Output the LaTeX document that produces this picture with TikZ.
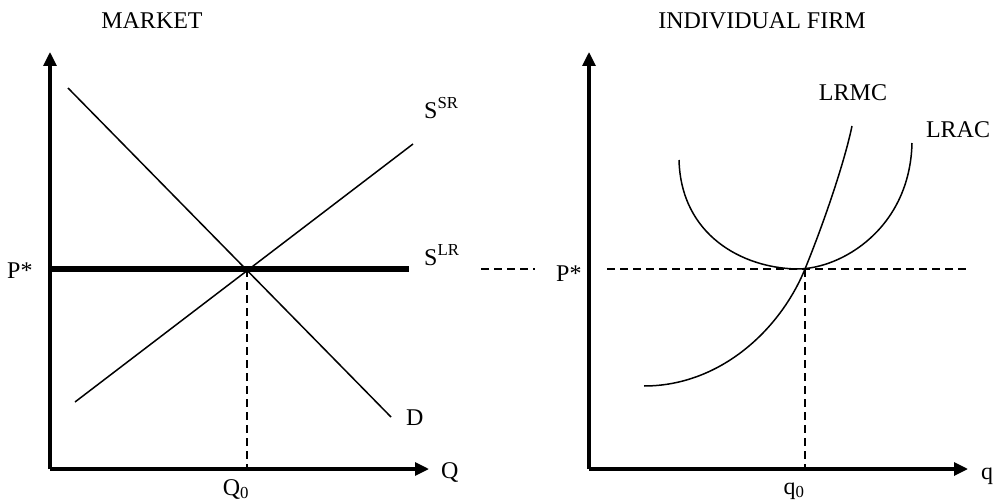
\documentclass[tikz,border=0pt]{standalone}
\usepackage{fontspec}
\setmainfont{Liberation Serif}
\usetikzlibrary{arrows.meta}
\begin{document}
\begin{tikzpicture}[x=1pt,y=-1pt,
  axis/.style={line width=3.2pt,-{Triangle[length=14pt,width=13pt]}},
  curve/.style={line width=1.5pt},
  thick line/.style={line width=5.2pt},
  guide/.style={line width=2pt,dash pattern=on 8pt off 5pt},
  lbl/.style={inner sep=0pt,font=\fontsize{24}{28}\selectfont},
  every node/.style={lbl}]
\useasboundingbox (0,0) rectangle (994,503);
% ---------- MARKET ----------
\coordinate (O1) at (50,469);
\coordinate (Y1) at (50,52);
\coordinate (X1) at (429,469);
\draw[axis] (O1) -- (Y1);
\draw[axis] (O1) -- (X1);
\coordinate (Dtop) at (68,88);
\coordinate (Dbot) at (391,417);
\coordinate (Sbot) at (75,402);
\coordinate (Stop) at (413,144);
\coordinate (Eq) at (247,269);
\coordinate (LRl) at (50,269);
\coordinate (LRr) at (409,269);
\coordinate (Eqb) at (247,469);
\draw[curve] (Dtop) -- (Dbot);
\draw[curve] (Sbot) -- (Stop);
\draw[thick line] (LRl) -- (LRr);
\draw[guide] (Eq) -- (Eqb);
\node[anchor=base] (mk) at (152,29) {MARKET};
\node[anchor=base west] (ssr) at (424,118) {S\textsuperscript{SR}};
\node[anchor=base west] (slr) at (424,265) {S\textsuperscript{LR}};
\node[anchor=base west] (p1) at (7,278) {P*};
\node[anchor=base west] (dl) at (406,425) {D};
\node[anchor=base west] (ql) at (441,478) {Q};
\node[anchor=base] (q0l) at (236,495) {Q\textsubscript{0}};
% ---------- INDIVIDUAL FIRM ----------
\coordinate (O2) at (589,469);
\coordinate (Y2) at (589,52);
\coordinate (X2) at (968,469);
\draw[axis] (O2) -- (Y2);
\draw[axis] (O2) -- (X2);
\coordinate (Dl1) at (481,269);
\coordinate (Dl2) at (535,269);
\coordinate (Dr1) at (607,269);
\coordinate (Dr2) at (968,269);
\coordinate (E2) at (805,269);
\coordinate (E2b) at (805,469);
\draw[guide] (Dl1) -- (Dl2);
\draw[guide] (Dr1) -- (Dr2);
\draw[guide] (E2) -- (E2b);
\coordinate (ACl) at (679,160);
\coordinate (ACm) at (797,269);
\coordinate (ACr) at (912,143);
\draw[curve] (ACl) .. controls (681,235) and (742,268) .. (ACm)
  .. controls (842,269) and (910,228) .. (ACr);
\coordinate (MCl) at (644,386);
\coordinate (MCt) at (852,126);
\draw[curve] (MCl) .. controls (720,386) and (780,330) .. (E2)
  .. controls (825,220) and (845,160) .. (MCt);
\node[anchor=base] (firm) at (762,29) {INDIVIDUAL FIRM};
\node[anchor=base] (lrmc) at (853,100) {LRMC};
\node[anchor=base] (lrac) at (958,137) {LRAC};
\node[anchor=base west] (p2) at (556,281) {P*};
\node[anchor=base west] (qf) at (981,479) {q};
\node[anchor=base] (q0f) at (794,494) {q\textsubscript{0}};
\end{tikzpicture}
\end{document}
